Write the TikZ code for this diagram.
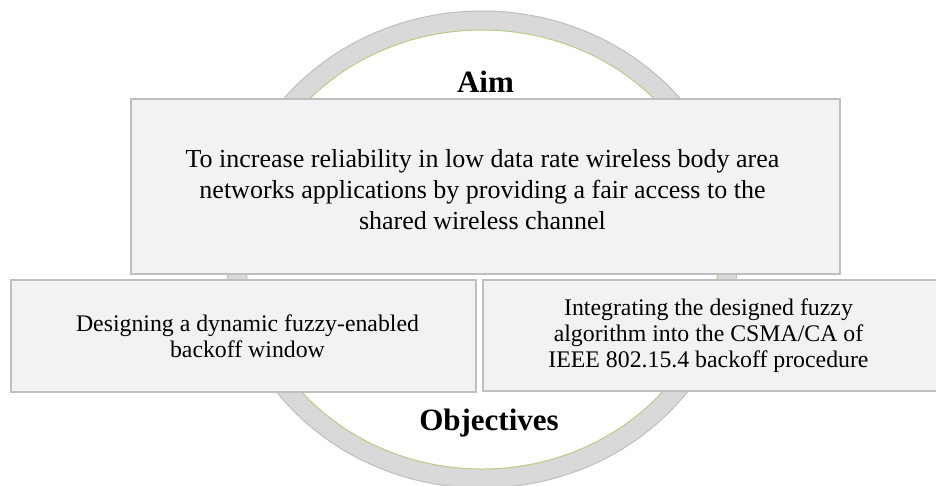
\documentclass[tikz,border=0pt]{standalone}
\usepackage{fontspec}
\setmainfont{Liberation Serif}
\definecolor{ringfill}{HTML}{D9D9D9}
\definecolor{ringedge}{HTML}{BFBFBF}
\definecolor{ringinner}{HTML}{B5CF86}
\definecolor{boxfill}{HTML}{F2F2F2}
\definecolor{boxedge}{HTML}{BFBFBF}
\tikzset{
  panel/.style={draw=boxedge, fill=boxfill, line width=1.5pt, inner sep=0pt, anchor=center},
  paneltext/.style={inner sep=0pt, align=center, anchor=center},
  title/.style={font=\fontsize{31}{36}\selectfont\bfseries, inner sep=0pt, anchor=base},
}
\begin{document}
\begin{tikzpicture}[x=1pt,y=-1pt]
\clip (0,0) rectangle (936,485);
\fill[white] (0,0) rectangle (936,485);
% ring
\fill[ringfill, even odd rule] (482,249.5) ellipse [x radius=256pt, y radius=238.5pt]
  (482,249.5) ellipse [x radius=237pt, y radius=219.5pt];
\draw[ringedge, line width=1pt] (482,249.5) ellipse [x radius=256pt, y radius=238.5pt];
\draw[ringinner, line width=1pt] (482,249.5) ellipse [x radius=237pt, y radius=219.5pt];
% titles
\node[title] (aim) at (485.5,92.5) {Aim};
\node[title] (obj) at (489,430) {Objectives};
% boxes
\node[panel, minimum width=709pt, minimum height=175pt] (top) at (485.5,186.5) {};
\node[panel, minimum width=465pt, minimum height=112pt] (left) at (243.5,336) {};
\node[panel, minimum width=465pt, minimum height=111pt] (right) at (715.5,335.5) {};
% texts
\node[paneltext, font=\fontsize{26}{31}\selectfont] (toptext) at ([xshift=-3pt,yshift=-3pt]top.center)
  {To increase reliability in low data rate wireless body area\\
   networks applications by providing a fair access to the\\
   shared wireless channel};
\node[paneltext, font=\fontsize{23.8}{26}\selectfont] (lefttext) at ([xshift=4pt]left.center)
  {Designing a dynamic fuzzy-enabled\\ backoff window};
\node[paneltext, font=\fontsize{23.8}{26}\selectfont] (righttext) at ([xshift=-7pt]right.center)
  {Integrating the designed fuzzy\\ algorithm into the CSMA/CA of\\ IEEE 802.15.4 backoff procedure};
\end{tikzpicture}
\end{document}
